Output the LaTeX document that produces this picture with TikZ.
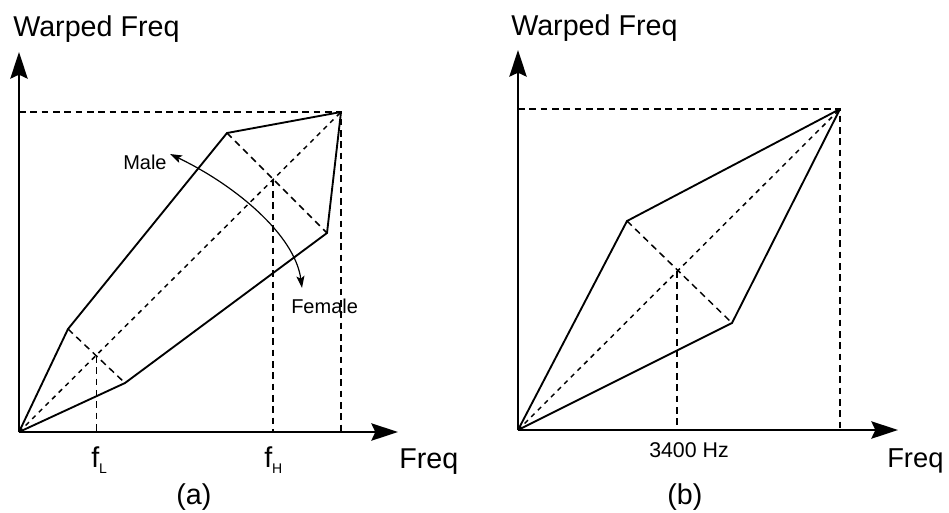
\documentclass[tikz,border=0pt]{standalone}
\usepackage{fontspec}
\setmainfont{Liberation Sans}
\usetikzlibrary{arrows.meta}
\begin{document}
\begin{tikzpicture}[x=0.75pt,y=-0.75pt,
  axis/.style={line width=1.5pt,-{Stealth[length=20pt,width=13pt,inset=3pt]}},
  solidline/.style={line width=1.4pt,line join=miter},
  guide/.style={line width=1.1pt,dash pattern=on 5pt off 3.5pt},
  diag/.style={line width=1.1pt,dash pattern=on 3.5pt off 3.5pt},
  swing/.style={line width=0.9pt,{Stealth[length=9pt,width=6pt,inset=2pt]}-{Stealth[length=9pt,width=6pt,inset=2pt]}},
  big/.style={font=\fontsize{21.5}{24}\selectfont,inner sep=0pt,anchor=base west},
  mid/.style={font=\fontsize{15}{18}\selectfont,inner sep=0pt,anchor=base west},
  small/.style={font=\fontsize{16}{18}\selectfont,inner sep=0pt,anchor=base west}]
\useasboundingbox (0,0) rectangle (949,512);

% ---------- panel (a) ----------
\coordinate (O1) at (19,432);
\coordinate (Y1) at (19,52);
\coordinate (X1) at (398,432);
\coordinate (C1) at (341,112);
\coordinate (T1) at (19,112);
\coordinate (B1) at (341,432);
\coordinate (UK1) at (68,329);
\coordinate (UM1) at (227,133);
\coordinate (LK1) at (125,383);
\coordinate (LM1) at (327,233);
\coordinate (XL) at (96.5,356);
\coordinate (XH) at (273,179.5);
\coordinate (XLb) at (96.5,432);
\coordinate (XHb) at (273,432);
\coordinate (Mtip) at (170,154);
\coordinate (Ftip) at (302,288);

\draw[guide] (T1) -- (C1) -- (B1);
\draw[diag] (O1) -- (C1);
\draw[guide] (UK1) -- (LK1);
\draw[guide] (UM1) -- (LM1);
\draw[guide] (XL) -- (XLb);
\draw[guide] (XH) -- (XHb);
\draw[solidline] (O1) -- (UK1) -- (UM1) -- (C1);
\draw[solidline] (O1) -- (LK1) -- (LM1) -- (C1);
\draw[axis] (O1) -- (Y1);
\draw[axis] (O1) -- (X1);
\draw[swing] (Mtip) .. controls (235,185) and (295,235) .. (Ftip);

\node[big] (wa) at (13,36) {Warped Freq};
\node[big] (fa) at (399,468) {Freq};
\node[big] (la) at (176,504) {(a)};
\node[big] (fl) at (91,467) {f\raisebox{-5pt}{\fontsize{10.5}{12}\selectfont L}};
\node[big] (fh) at (264,467) {f\raisebox{-5pt}{\fontsize{10.5}{12}\selectfont H}};
\node[mid] (male) at (123,169) {Male};
\node[mid] (female) at (291,313) {Female};

% ---------- panel (b) ----------
\coordinate (O2) at (518,430);
\coordinate (Y2) at (518,50);
\coordinate (X2) at (898,430);
\coordinate (C2) at (840,109);
\coordinate (T2) at (518,109);
\coordinate (B2) at (840,430);
\coordinate (UK2) at (627,221);
\coordinate (LK2) at (732,323);
\coordinate (X2c) at (677,271);
\coordinate (X2b) at (677,430);

\draw[guide] (T2) -- (C2) -- (B2);
\draw[diag] (O2) -- (C2);
\draw[guide] (UK2) -- (LK2);
\draw[guide] (X2c) -- (X2b);
\draw[solidline] (O2) -- (UK2) -- (C2);
\draw[solidline] (O2) -- (LK2) -- (C2);
\draw[axis] (O2) -- (Y2);
\draw[axis] (O2) -- (X2);

\node[big] (wb) at (511,35) {Warped Freq};
\node[big,font=\fontsize{20.5}{24}\selectfont] (fb) at (887,467) {Freq};
\node[big] (lb) at (667,504) {(b)};
\node[small] (hz) at (649,457) {3400 Hz};
\end{tikzpicture}
\end{document}
